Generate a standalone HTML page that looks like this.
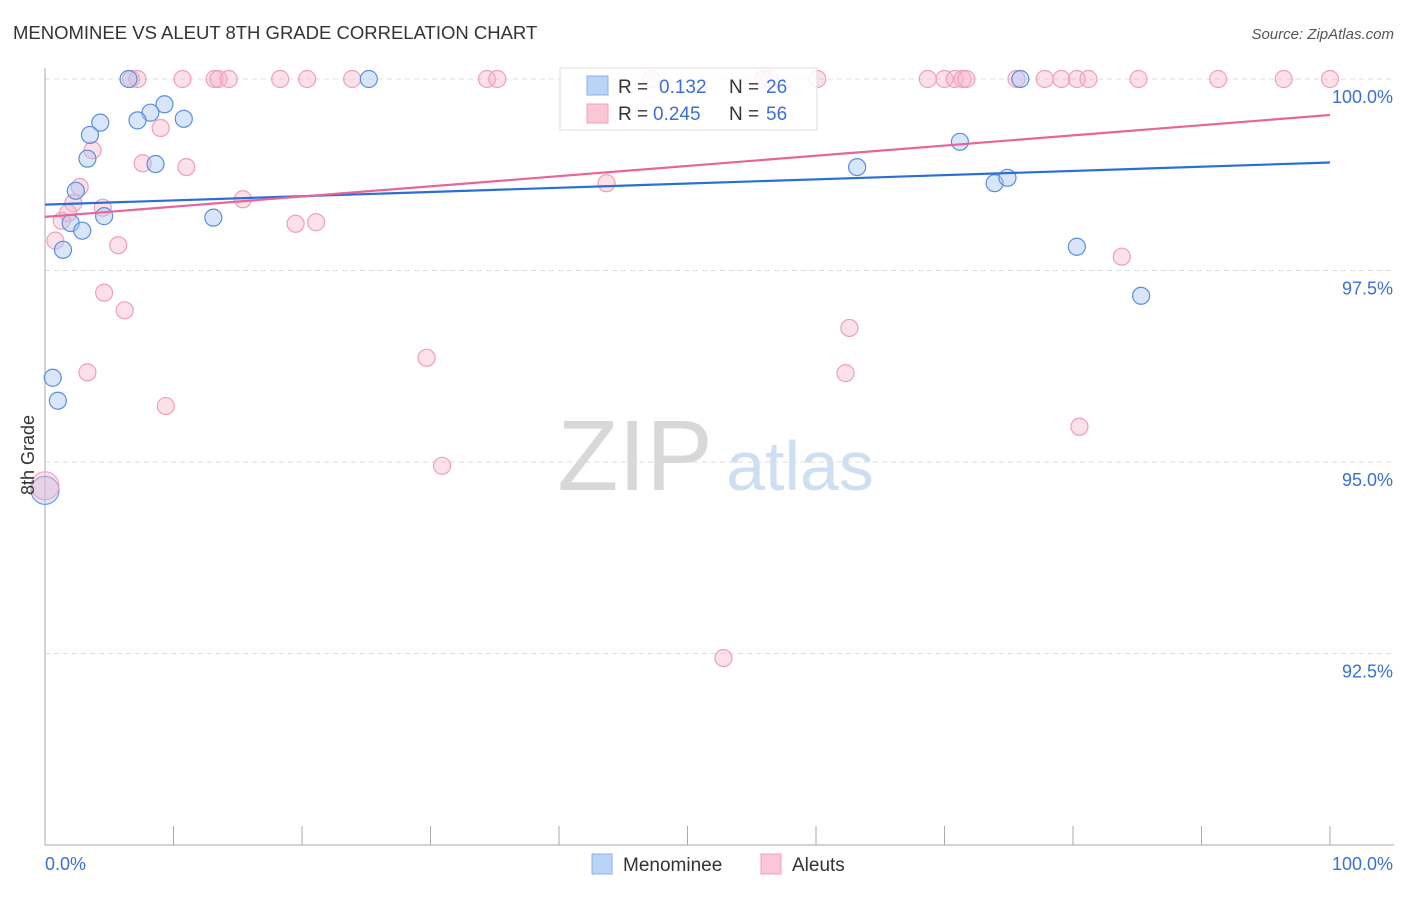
<!DOCTYPE html>
<html><head><meta charset="utf-8"><style>
body{margin:0;background:#fff;font-family:"Liberation Sans",sans-serif;}
svg text{font-family:"Liberation Sans",sans-serif;}
</style></head><body>
<svg id="chart" width="1406" height="892">
<text x="13" y="39" font-size="18.5" fill="#333">MENOMINEE VS ALEUT 8TH GRADE CORRELATION CHART</text>
<text x="1394" y="39" font-size="15" fill="#555" text-anchor="end" font-style="italic">Source: ZipAtlas.com</text>
<g>
<text x="635" y="490" font-size="100" fill="#d8d8d8" font-family="Liberation Serif" text-anchor="middle">ZIP</text>
<text x="800" y="490" font-size="70" fill="#cfdff2" text-anchor="middle">atlas</text>
</g>
<g id="grid"></g>
<g id="axes"></g>
<g id="marks"></g>
<text transform="translate(34,455) rotate(-90)" font-size="18" fill="#333" text-anchor="middle">8th Grade</text>
<g>
<rect x="560" y="68" width="257" height="62" fill="rgba(255,255,255,0.85)" stroke="#ddd"/>
<rect x="587" y="76" width="21" height="19" fill="#b9d4f7" stroke="#8ab1e8"/>
<rect x="587" y="104" width="21" height="19" fill="#fbc7d6" stroke="#f0a0b8"/>
<text x="618" y="93" font-size="19" fill="#333">R =</text><text x="659" y="93" font-size="19" fill="#3a70d0">0.132</text>
<text x="729" y="93" font-size="19" fill="#333">N =</text><text x="766" y="93" font-size="19" fill="#3a70d0">26</text>
<text x="618" y="120" font-size="19" fill="#333">R =</text><text x="653" y="120" font-size="19" fill="#3a70d0">0.245</text>
<text x="729" y="120" font-size="19" fill="#333">N =</text><text x="766" y="120" font-size="19" fill="#3a70d0">56</text>
</g>
<g>
<rect x="592" y="854" width="20" height="20" fill="#b9d4f7" stroke="#8ab1e8"/>
<text x="623" y="871" font-size="19" fill="#333">Menominee</text>
<rect x="761" y="854" width="20" height="20" fill="#fbc7d6" stroke="#f0a0b8"/>
<text x="792" y="871" font-size="19" fill="#333">Aleuts</text>
</g>
</svg>
<script>
const yTicks=[100,97.5,95,92.5];
const yTickLabels=["100.0%","97.5%","95.0%","92.5%"];
const xTicks=[0,10,20,30,40,50,60,70,80,90,100];
const xLabels=["0.0%","100.0%"];
const blueX=[6.5,25.2,75.9,9.3,8.2,7.2,10.8,4.3,3.5,3.3,8.6,2.4,2.0,2.9,4.6,13.1,1.4,0.6,1.0,63.2,71.2,73.9,74.9,80.3,85.3];
const blueY=[100,100,100,99.67,99.56,99.46,99.48,99.43,99.27,98.96,98.89,98.54,98.12,98.02,98.21,98.19,97.77,96.10,95.80,98.85,99.18,98.64,98.71,97.81,97.17];
const pinkX=[9.0,3.7,7.6,11.0,2.7,2.2,4.5,1.8,1.3,0.8,5.7,15.4,19.5,21.1,43.7,4.6,6.2,3.3,9.4,29.7,30.9,52.8,62.6,62.3,80.5,83.8,
6.7,7.2,10.7,13.2,13.5,14.3,18.3,20.4,23.9,34.4,35.2,47.2,55.9,56.4,60.1,68.7,70.0,70.8,71.4,71.7,75.6,77.8,79.1,80.3,81.2,85.1,91.3,96.4,100];
const pinkY=[99.36,99.07,98.90,98.85,98.59,98.38,98.32,98.25,98.15,97.89,97.83,98.43,98.11,98.13,98.64,97.21,96.98,96.17,95.73,96.36,94.95,92.44,96.75,96.16,95.46,97.68,
100,100,100,100,100,100,100,100,100,100,100,100,100,100,100,100,100,100,100,100,100,100,100,100,100,100,100,100,100];
const bigX=[0,0];const bigY=[94.63,94.69];
const blueTrend=[98.36,98.91];
const pinkTrend=[98.20,99.53];
const NS="http://www.w3.org/2000/svg";
const xs=v=>45+v*12.85, ys=v=>79+(100-v)*76.6;
function mk(p,t,a){const e=document.createElementNS(NS,t);for(const k in a)e.setAttribute(k,a[k]);document.getElementById(p).appendChild(e);return e;}
yTicks.forEach((t,i)=>{
 const l=mk('grid','line',{x1:45,x2:1394,y1:ys(t),y2:ys(t),stroke:'#ddd','stroke-dasharray':'5,4'});
 
 
 const tx=mk('axes','text',{x:1393,y:ys(t)+24,'font-size':18,fill:'#3a70d0','text-anchor':'end'});tx.textContent=yTickLabels[i];
 
 
});
const ya=mk('axes','line',{x1:45,x2:45,y1:68,y2:845,stroke:'#aaa'});


const xa=mk('axes','line',{x1:45,x2:1394,y1:845,y2:845,stroke:'#aaa'});


xTicks.forEach(t=>{const l=mk('axes','line',{x1:xs(t),x2:xs(t),y1:826,y2:845,stroke:'#aaa'});
 
 });
[[0,'start',45],[100,'end',1393]].forEach((d,i)=>{const t=mk('axes','text',{x:d[2],y:870,'font-size':18,fill:'#3a70d0','text-anchor':d[1]});t.textContent=xLabels[i];
 
 });
pinkX.forEach((x,i)=>{const c=mk('marks','circle',{cx:xs(x),cy:ys(pinkY[i]),r:8.5,fill:'rgba(248,180,200,0.4)',stroke:'#ef9fb8','stroke-width':1.2});
 
 });
blueX.forEach((x,i)=>{const c=mk('marks','circle',{cx:xs(x),cy:ys(blueY[i]),r:8.5,fill:'rgba(170,200,245,0.45)',stroke:'#5a8ee0','stroke-width':1.2});
 
 });
const b1=mk('marks','circle',{cx:xs(bigX[0]),cy:ys(bigY[0]),r:14,fill:'rgba(170,200,245,0.45)',stroke:'#5a8ee0'});


const b2=mk('marks','circle',{cx:xs(bigX[1]),cy:ys(bigY[1]),r:14,fill:'rgba(248,180,200,0.4)',stroke:'#ef9fb8'});


const tb=mk('marks','line',{x1:xs(0),x2:xs(100),y1:ys(blueTrend[0]),y2:ys(blueTrend[1]),stroke:'#2a6fd6','stroke-width':2.2});


const tp=mk('marks','line',{x1:xs(0),x2:xs(100),y1:ys(pinkTrend[0]),y2:ys(pinkTrend[1]),stroke:'#e8659a','stroke-width':2.2});


</script>
</body></html>
